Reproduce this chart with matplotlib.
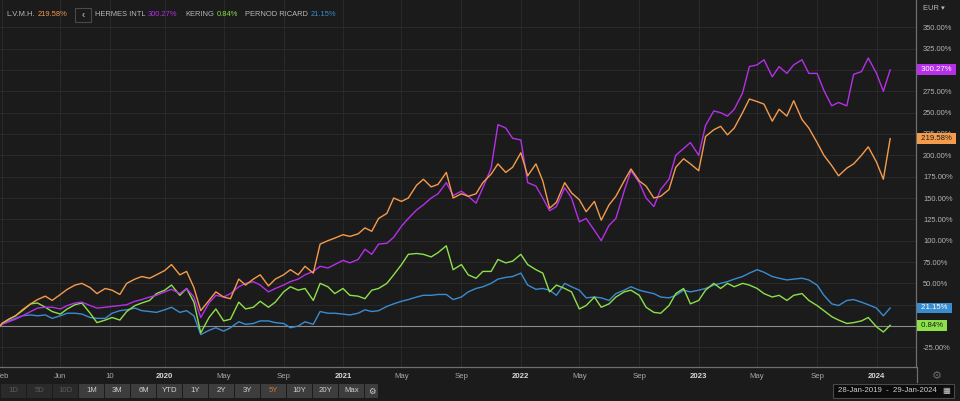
import numpy as np
import pandas as pd
import matplotlib
matplotlib.use("Agg")
import matplotlib.pyplot as plt
import matplotlib.dates as mdates
from matplotlib.patches import Rectangle
from matplotlib.lines import Line2D
from matplotlib.transforms import blended_transform_factory

plt.rcParams["font.family"] = ["Liberation Sans", "DejaVu Sans"]

# semi-monthly sample dates (1st / 15th), plus the first and last session
dates = (pd.DatetimeIndex(["2019-01-28"])
         .append(pd.date_range("2019-02-01", "2024-01-15", freq="SMS"))
         .append(pd.DatetimeIndex(["2024-01-29"])))

# % change since 28-Jan-2019
lvmh = (
    [0, 3, 8, 12, 19, 26, 31, 35, 30, 37, 43, 48, 50, 45, 38, 44, 42, 37, 50, 55, 58, 56, 60]
    + [65, 72, 60, 64, 45, 18, 30, 40, 34, 32, 55, 48, 55, 60, 47, 55, 60, 66, 60, 70, 62, 96, 100, 103]
    + [107, 105, 108, 115, 111, 126, 132, 150, 146, 150, 165, 172, 163, 166, 180, 150, 155, 152, 155, 168, 178, 190, 180, 186]
    + [203, 176, 190, 170, 138, 145, 168, 156, 148, 134, 146, 124, 142, 152, 170, 184, 170, 164, 150, 152, 160, 186, 196, 190]
    + [182, 222, 230, 234, 224, 232, 250, 266, 263, 260, 240, 254, 246, 264, 242, 232, 215, 200, 188, 176, 185, 190, 200, 210]
    + [192, 172, 219.58]
)
hermes = (
    [0, 2, 5, 8, 12, 17, 21, 22, 22, 20, 24, 27, 28, 24, 21, 22, 23, 24, 25, 29, 31, 34, 36]
    + [40, 43, 38, 44, 34, 10, 27, 36, 34, 38, 46, 50, 52, 48, 40, 44, 48, 52, 55, 60, 64, 70, 68, 72]
    + [77, 74, 78, 90, 84, 96, 97, 104, 117, 126, 136, 142, 150, 155, 168, 153, 158, 152, 144, 162, 185, 236, 232, 220]
    + [218, 168, 164, 150, 135, 140, 162, 150, 122, 126, 112, 100, 118, 126, 158, 182, 168, 150, 140, 160, 172, 200, 208, 215]
    + [200, 235, 252, 250, 246, 254, 273, 304, 306, 312, 292, 304, 296, 306, 312, 296, 296, 276, 258, 262, 258, 295, 298, 314]
    + [296, 275, 300.27]
)
kering = (
    [0, 3, 8, 12, 18, 26, 27, 22, 17, 14, 20, 25, 27, 15, 4, 7, 10, 7, 17, 24, 27, 30, 38]
    + [42, 48, 36, 44, 28, -8, 10, 20, 6, 8, 28, 20, 22, 29, 22, 28, 40, 46, 42, 44, 30, 50, 46, 38]
    + [44, 36, 35, 32, 42, 44, 50, 60, 72, 84, 85, 84, 81, 86, 94, 66, 72, 60, 56, 64, 64, 78, 74, 76]
    + [84, 72, 66, 62, 40, 48, 44, 40, 20, 24, 34, 22, 26, 34, 40, 42, 36, 22, 16, 15, 24, 38, 44, 26]
    + [30, 42, 50, 44, 50, 46, 50, 48, 44, 38, 34, 36, 30, 36, 38, 30, 24, 18, 11, 7, 3, 4, 6, 10]
    + [-1, -7, 0.84]
)
pernod = (
    [0, 2, 6, 9, 12, 13, 12, 13, 9, 12, 15, 15, 14, 10, 9, 9, 15, 18, 19, 21, 18, 17, 16]
    + [19, 22, 16, 18, 12, -10, -5, -2, -6, -2, 5, 2, 3, 6, 6, 4, 3, -2, 0, 5, 2, 17, 15, 15]
    + [14, 13, 15, 19, 17, 18, 23, 26, 29, 31, 34, 36, 36, 37, 37, 31, 34, 40, 44, 46, 50, 55, 57, 58]
    + [62, 48, 43, 44, 42, 36, 50, 46, 42, 33, 34, 33, 30, 38, 42, 46, 42, 40, 38, 34, 33, 36, 42, 40]
    + [42, 44, 48, 50, 52, 55, 58, 62, 66, 63, 58, 56, 54, 55, 56, 54, 48, 36, 26, 24, 30, 31, 28, 25]
    + [21, 12, 21.15]
)

names = ["L.V.M.H.", "HERMES INTL", "KERING", "PERNOD RICARD"]
series = [lvmh, hermes, kering, pernod]
colors = ["#f59b4c", "#b530e8", "#8de04a", "#3a8cd0"]
box_text = ["#1a1a1a", "white", "#1a1a1a", "white"]

yticks = list(range(-25, 351, 25))
hidden_yticks = [0, 25, 300]          # covered by the last-value boxes
xtick_dates = ["2019-02-01", "2019-06-01", "2019-09-10", "2020-01-01", "2020-05-01", "2020-09-01",
               "2021-01-01", "2021-05-01", "2021-09-01", "2022-01-01", "2022-05-01", "2022-09-01",
               "2023-01-01", "2023-05-01", "2023-09-01", "2024-01-01"]
xtick_labels = ["Feb", "Jun", "10", "2020", "May", "Sep", "2021", "May", "Sep", "2022", "May", "Sep",
                "2023", "May", "Sep", "2024"]
buttons = ["1D", "5D", "10D", "1M", "3M", "6M", "YTD", "1Y", "2Y", "3Y", "5Y", "10Y", "20Y", "Max"]

BG = "#1b1b1b"
W, H = 960, 401

fig = plt.figure(figsize=(9.6, 4.01), dpi=100, facecolor=BG)
ax = fig.add_axes([0, 34 / H, 916 / W, 1 - 34 / H])
ax.set_facecolor(BG)

for vals, c in zip(series[::-1], colors[::-1]):
    ax.plot(dates, vals, color=c, lw=1.0, zorder=3)

ax.axhline(0, color="#8c8c8c", lw=0.8, zorder=2)

ax.set_xlim(pd.Timestamp("2019-01-28"), pd.Timestamp("2024-03-22"))
ax.set_ylim(-48, 382)

ax.yaxis.tick_right()
ax.set_yticks(yticks)
ax.set_yticklabels(["" if v in hidden_yticks else f"{v:.2f}%" for v in yticks])
ax.set_xticks(pd.to_datetime(xtick_dates))
ax.set_xticklabels(xtick_labels)
ax.tick_params(axis="y", length=0, pad=5, labelsize=5.4, labelcolor="#b4b4b4")
ax.tick_params(axis="x", length=0, pad=4, labelsize=5.6, labelcolor="#a8a8a8")
for lab in ax.get_xticklabels():
    if lab.get_text().isdigit() and len(lab.get_text()) == 4:
        lab.set_fontweight("bold")
        lab.set_color("#d8d8d8")

ax.grid(True, color="#2c2c2c", lw=0.6, zorder=0)
for s in ["top", "left"]:
    ax.spines[s].set_visible(False)
ax.spines["bottom"].set_color("#6e6e6e")
ax.spines["right"].set_color("#6e6e6e")
ax.spines["bottom"].set_linewidth(0.9)
ax.spines["right"].set_linewidth(0.9)

# last-value boxes on the right axis
tr = blended_transform_factory(ax.transAxes, ax.transData)
for vals, c, tc in zip(series, colors, box_text):
    ax.text(1.0035, vals[-1], f" {vals[-1]:.2f}% ", transform=tr, ha="left", va="center",
            fontsize=5.6, color=tc, zorder=10, clip_on=False,
            bbox=dict(boxstyle="square,pad=0.25", fc=c, ec="none"))

# header legend
top_y = 1 - 15 / H
fig.text(6 / W, top_y, "L.V.M.H.", color="#b8b8b8", fontsize=5.4, va="center")
fig.text(38 / W, top_y, "219.58%", color=colors[0], fontsize=5.4, va="center")
fig.patches.append(Rectangle((75 / W, 1 - 22 / H), 16 / W, 14 / H, transform=fig.transFigure,
                             fc="#1b1b1b", ec="#4a4a4a", lw=0.8))
fig.text(83 / W, top_y, "‹", color="#cfcfcf", fontsize=7, ha="center", va="center")
fig.text(95 / W, top_y, "HERMES INTL", color="#b8b8b8", fontsize=5.4, va="center")
fig.text(148 / W, top_y, "300.27%", color=colors[1], fontsize=5.4, va="center")
fig.text(185 / W, top_y, "KERING", color="#b8b8b8", fontsize=5.4, va="center")
fig.text(217 / W, top_y, "0.84%", color=colors[2], fontsize=5.4, va="center")
fig.text(245 / W, top_y, "PERNOD RICARD", color="#b8b8b8", fontsize=5.4, va="center")
fig.text(311 / W, top_y, "21.15%", color=colors[3], fontsize=5.4, va="center")
fig.text(923 / W, 1 - 9 / H, "EUR ▾", color="#b8b8b8", fontsize=5.4, va="center")

# range buttons along the bottom
bx = 1
for i, b in enumerate(buttons):
    dim = i < 3
    fig.patches.append(Rectangle((bx / W, 3 / H), 25 / W, 14 / H, transform=fig.transFigure,
                                 fc="#2a2a2a" if dim else "#3d3d3d", ec="none"))
    tc = "#5a5a5a" if dim else ("#c8783a" if b == "5Y" else "#d0d0d0")
    fig.text((bx + 12.5) / W, 10 / H, b, color=tc, fontsize=5.6, ha="center", va="center")
    bx += 26
fig.patches.append(Rectangle((bx / W, 3 / H), 13 / W, 14 / H, transform=fig.transFigure,
                             fc="#3d3d3d", ec="none"))
fig.text((bx + 6.5) / W, 10 / H, "⚙", color="#d0d0d0", fontsize=6, ha="center", va="center",
         family=["DejaVu Sans"])

# date range box and settings icon at the bottom right
fig.patches.append(Rectangle((833 / W, 3 / H), 121 / W, 14 / H, transform=fig.transFigure,
                             fc="#0c0c0c", ec="#4a4a4a", lw=0.8))
fig.text(838 / W, 10 / H, "28-Jan-2019  -  29-Jan-2024", color="#cfcfcf", fontsize=5.6, va="center")
fig.text(946 / W, 10 / H, "▦", color="#cfcfcf", fontsize=6, ha="center", va="center",
         family=["DejaVu Sans"])
fig.text(937 / W, 1 - 376 / H, "⚙", color="#6a6a6a", fontsize=8, ha="center", va="center",
         family=["DejaVu Sans"])
fig.lines.append(Line2D([916.5 / W, 916.5 / W], [1 - 382 / H, 34 / H], transform=fig.transFigure,
                        color="#6e6e6e", lw=0.9))

fig.savefig("out.png", dpi=100, facecolor=BG)
